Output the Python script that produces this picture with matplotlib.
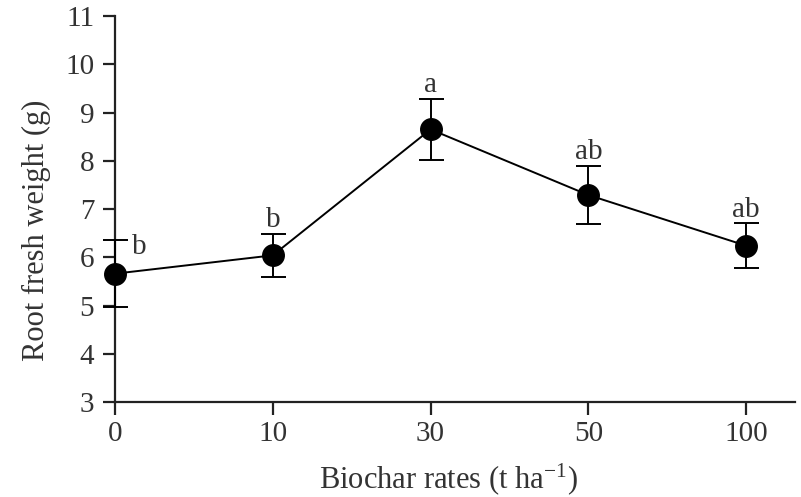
import matplotlib
matplotlib.use("Agg")
import matplotlib.pyplot as plt

plt.rcParams['font.family'] = ['Liberation Serif', 'DejaVu Serif']
plt.rcParams['mathtext.fontset'] = 'custom'
plt.rcParams['mathtext.rm'] = 'Liberation Serif'
plt.rcParams['mathtext.it'] = 'Liberation Serif:italic'

categories = ['0', '10', '30', '50', '100']
means = [5.66, 6.04, 8.65, 7.29, 6.24]
errors = [0.70, 0.44, 0.63, 0.60, 0.46]
letters = ['b', 'b', 'a', 'ab', 'ab']

FS = 21
LFS = 22
TXT = '#333333'

fig = plt.figure(figsize=(8.01, 4.97), dpi=100)
ax = fig.add_axes([0.1436, 0.1911, 0.8489, 0.7767])
x = list(range(len(categories)))
ax.errorbar(x, means, yerr=errors, fmt='-o', color='black', ecolor='black',
            markersize=15.5, linewidth=1.4, elinewidth=1.4, capsize=9, capthick=1.4,
            clip_on=False, zorder=3)

for i, (m, e, l) in enumerate(zip(means, errors, letters)):
    if i == 0:
        ax.text(i + 0.11, m + e - 0.15, l, ha='left', va='center', fontsize=FS, color=TXT)
    else:
        ax.text(i, m + e + 0.02, l, ha='center', va='bottom', fontsize=FS, color=TXT)

ax.set_xlim(0, 4.31)
ax.set_ylim(3, 11)
ax.set_xticks(x)
ax.set_xticklabels(categories)
ax.set_yticks(range(3, 12))
for s in ['top', 'right']:
    ax.spines[s].set_visible(False)
for s in ['left', 'bottom']:
    ax.spines[s].set_linewidth(1.6)
    ax.spines[s].set_color('#222222')
ax.tick_params(axis='both', direction='out', length=9, width=1.6, color='#222222',
               labelsize=FS, labelcolor=TXT)
ax.tick_params(axis='x', pad=5)
ax.tick_params(axis='y', pad=6)
ax.set_xlabel(r'Biochar rates (t ha$^{\mathregular{-1}}$)', fontsize=LFS, color=TXT, labelpad=10)
ax.set_ylabel('Root fresh weight (g)', fontsize=LFS, color=TXT)
ax.yaxis.set_label_coords(-0.094, 0.446)
ax.xaxis.label.set_x(0.491)

fig.savefig('out.png', dpi=100)
